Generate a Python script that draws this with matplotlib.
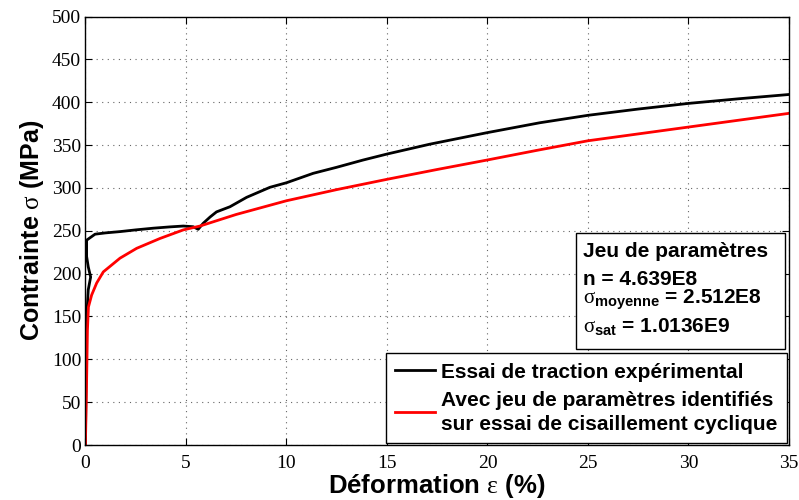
import matplotlib
matplotlib.use("Agg")
import matplotlib.pyplot as plt
from matplotlib.patches import Rectangle

# -- Data --------------------------------------------------------------------
black_strain = [0, 0.03, 0.06, 0.14, 0.26, 0.14, 0.06, 0.06, 0.06, 0.48, 1.0,
                1.72, 2.5, 3.38, 4.2, 4.87, 5.36, 5.61, 5.86, 6.2, 6.52, 7.19,
                8.02, 9.18, 10.0, 11.33, 12.49, 13.81, 15.0, 17.13, 19.97,
                22.6, 25.0, 27.5, 30.0, 32.5, 35.0]
black_stress = [0, 76, 146, 181, 196, 208, 220, 233, 239, 246, 247.5,
                249, 251, 253, 254.5, 255.5, 254.7, 251.7, 258.7, 266, 272, 278,
                289, 300.7, 306, 317, 324, 332.5, 339.5, 351, 364.4,
                376, 384.7, 392, 398.6, 404, 409]

red_strain = [0, 0.06, 0.1, 0.15, 0.31, 0.56, 0.89, 1.72, 2.55, 3.71, 4.87,
              5.7, 7.5, 10, 12.5, 15, 17.5, 20, 22.5, 25, 27.5, 30, 32.5, 35]
red_stress = [0, 76, 134, 161, 175, 189, 202, 218, 229.5, 241, 251,
              255.5, 269, 285, 298, 310, 321.5, 332.6, 344, 355, 363, 371, 379, 387]

x_ticks = [0, 5, 10, 15, 20, 25, 30, 35]
y_ticks = [0, 50, 100, 150, 200, 250, 300, 350, 400, 450, 500]

legend_labels = ["Essai de traction expérimental",
                 "Avec jeu de paramètres identifiés\nsur essai de cisaillement cyclique"]

param_lines = ["Jeu de paramètres",
               "n = 4.639E8",
               r"$\sigma_{\mathrm{moyenne}}$ = 2.512E8",
               r"$\sigma_{\mathrm{sat}}$ = 1.0136E9"]

plt.rcParams["mathtext.fontset"] = "custom"
plt.rcParams["mathtext.rm"] = "Liberation Sans:bold"
plt.rcParams["mathtext.bf"] = "Liberation Sans:bold"
plt.rcParams["mathtext.it"] = "Liberation Serif"

fig = plt.figure(figsize=(7.99, 5.0), dpi=100)
ax = fig.add_axes([0.1069, 0.11, 0.8806, 0.857])

ax.plot(black_strain, black_stress, color="black", lw=2.0, label=legend_labels[0])
ax.plot(red_strain, red_stress, color="red", lw=2.0, label=legend_labels[1])

ax.set_xlim(0, 35)
ax.set_ylim(0, 500)
ax.set_xticks(x_ticks)
ax.set_yticks(y_ticks)
ax.tick_params(direction="in", top=True, right=True, length=5, width=0.8,
               labelsize=14)
ax.tick_params(axis="x", pad=7)
ax.tick_params(axis="y", pad=3)
for lab in ax.get_xticklabels() + ax.get_yticklabels():
    lab.set_family("Liberation Serif")
for sp in ax.spines.values():
    sp.set_linewidth(1.0)

ax.grid(True, color="#666666", linestyle=(0, (1, 4)), linewidth=0.8)

ax.set_xlabel(r"Déformation $\varepsilon$ (%)", fontsize=18.5, fontweight="bold",
              family="Liberation Sans", labelpad=0)
ax.set_ylabel(r"Contrainte $\sigma$ (MPa)", fontsize=18, fontweight="bold",
              family="Liberation Sans", labelpad=4)

leg = ax.legend(loc="lower right", frameon=True, fancybox=False,
                framealpha=1, edgecolor="black", borderaxespad=0.1,
                handlelength=1.9, handletextpad=0.3, borderpad=0.45,
                labelspacing=0.45,
                prop={"family": "Liberation Sans", "weight": "bold", "size": 15})
leg.get_frame().set_linewidth(1.0)
for t in leg.get_texts():
    t.set_linespacing(1.3)

# parameter box (axes coordinates)
ax.add_patch(Rectangle((0.697, 0.224), 0.297, 0.271, transform=ax.transAxes,
                       facecolor="white", edgecolor="black", linewidth=1.0,
                       zorder=5))
for txt, yb in zip(param_lines, [0.4387, 0.3734, 0.3291, 0.2637]):
    ax.text(0.7072, yb, txt, transform=ax.transAxes, ha="left", va="baseline",
            fontsize=15, fontweight="bold", family="Liberation Sans", zorder=6)

fig.savefig("out.png", dpi=100)
